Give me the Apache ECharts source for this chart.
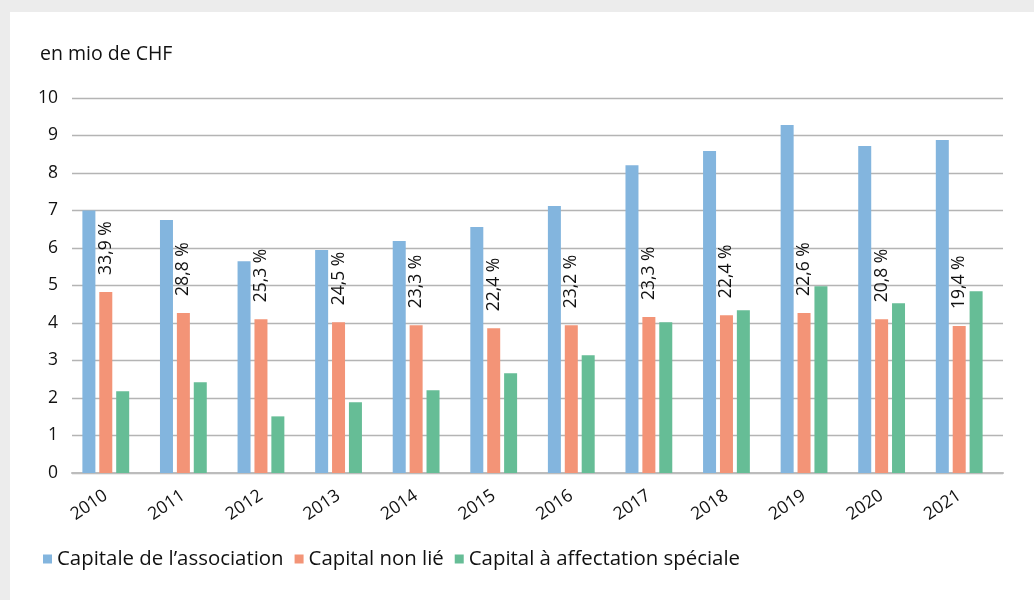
<!DOCTYPE html>
<html>
<head>
<meta charset="utf-8">
<script src="https://cdn.jsdelivr.net/npm/echarts@6/dist/echarts.min.js"></script>
<style>
html,body{margin:0;padding:0;background:#ececec;}
#wrap{position:absolute;left:10px;top:12px;width:1024px;height:588px;background:#fff;}
#chart{position:absolute;left:0;top:0;width:1034px;height:600px;}
</style>
</head>
<body>
<div id="wrap"></div>
<div id="chart"></div>
<script>
const years = ['2010','2011','2012','2013','2014','2015','2016','2017','2018','2019','2020','2021'];
const capitalAssociation = [7.00, 6.75, 5.65, 5.95, 6.19, 6.56, 7.12, 8.21, 8.59, 9.28, 8.72, 8.88];
const capitalNonLie = [4.83, 4.27, 4.10, 4.02, 3.94, 3.86, 3.94, 4.16, 4.21, 4.27, 4.10, 3.92];
const capitalAffectation = [2.18, 2.42, 1.51, 1.89, 2.21, 2.66, 3.14, 4.02, 4.34, 4.98, 4.53, 4.85];
const shareLabels = ['33,9 %','28,8 %','25,3 %','24,5 %','23,3 %','22,4 %','23,2 %','23,3 %','22,4 %','22,6 %','20,8 %','19,4 %'];
const yTicks = [0,1,2,3,4,5,6,7,8,9,10];
const seriesNames = ['Capitale de l\u2019association','Capital non lié','Capital à affectation spéciale'];

const FONT = 'Open Sans';
const chart = echarts.init(document.getElementById('chart'), null, {renderer:'canvas'});
chart.setOption({
  backgroundColor: 'transparent',
  animation: false,
  textStyle: {fontFamily: FONT, color: '#111'},
  title: {
    text: 'en mio de CHF', left: 35, top: 39,
    textStyle: {fontFamily: FONT, fontSize: 19.5, fontWeight: 'normal', color: '#111'}
  },
  legend: {
    left: 38, top: 544,
    icon: 'rect', itemWidth: 9, itemHeight: 9, itemGap: 11,
    textStyle: {fontFamily: FONT, fontSize: 20.4, color: '#111'},
    data: seriesNames
  },
  grid: [
    {left: 72, right: 31, top: 98, bottom: 127},
    {left: 67, width: 931, top: 98, bottom: 127}
  ],
  xAxis: [
    {gridIndex: 0, type: 'category', data: years, axisLine: {show: true, lineStyle: {color: '#bcbcbc', width: 2}},
     axisTick: {show: false}, axisLabel: {show: false}},
    {gridIndex: 1, type: 'category', data: years, axisLine: {show: false}, axisTick: {show: false},
     axisLabel: {rotate: 34, margin: 21, fontFamily: FONT, fontSize: 17.5, color: '#111'}}
  ],
  yAxis: [
    {gridIndex: 0, type: 'value', min: yTicks[0], max: yTicks[yTicks.length-1], interval: 1,
     axisLine: {show: false}, axisTick: {show: false},
     axisLabel: {margin: 14, fontFamily: FONT, fontSize: 17.5, color: '#111'},
     splitLine: {lineStyle: {color: '#b4b4b4', width: 1.3}}},
    {gridIndex: 1, type: 'value', min: yTicks[0], max: yTicks[yTicks.length-1], interval: 1,
     show: false, splitLine: {show: false}}
  ],
  series: [
    {name: seriesNames[0], type: 'bar', xAxisIndex: 1, yAxisIndex: 1, data: capitalAssociation,
     barWidth: 13, barGap: '30%', itemStyle: {color: '#83b5de'}},
    {name: seriesNames[1], type: 'bar', xAxisIndex: 1, yAxisIndex: 1, data: capitalNonLie,
     barWidth: 13, barGap: '30%', itemStyle: {color: '#f39477'},
     label: {show: true, position: 'top', rotate: 90, align: 'left', verticalAlign: 'middle',
       distance: 17, fontFamily: FONT, fontSize: 17.5, color: '#111',
       formatter: p => shareLabels[p.dataIndex]}},
    {name: seriesNames[2], type: 'bar', xAxisIndex: 1, yAxisIndex: 1, data: capitalAffectation,
     barWidth: 13, barGap: '30%', itemStyle: {color: '#66bd96'}}
  ]
});
</script>
</body>
</html>
